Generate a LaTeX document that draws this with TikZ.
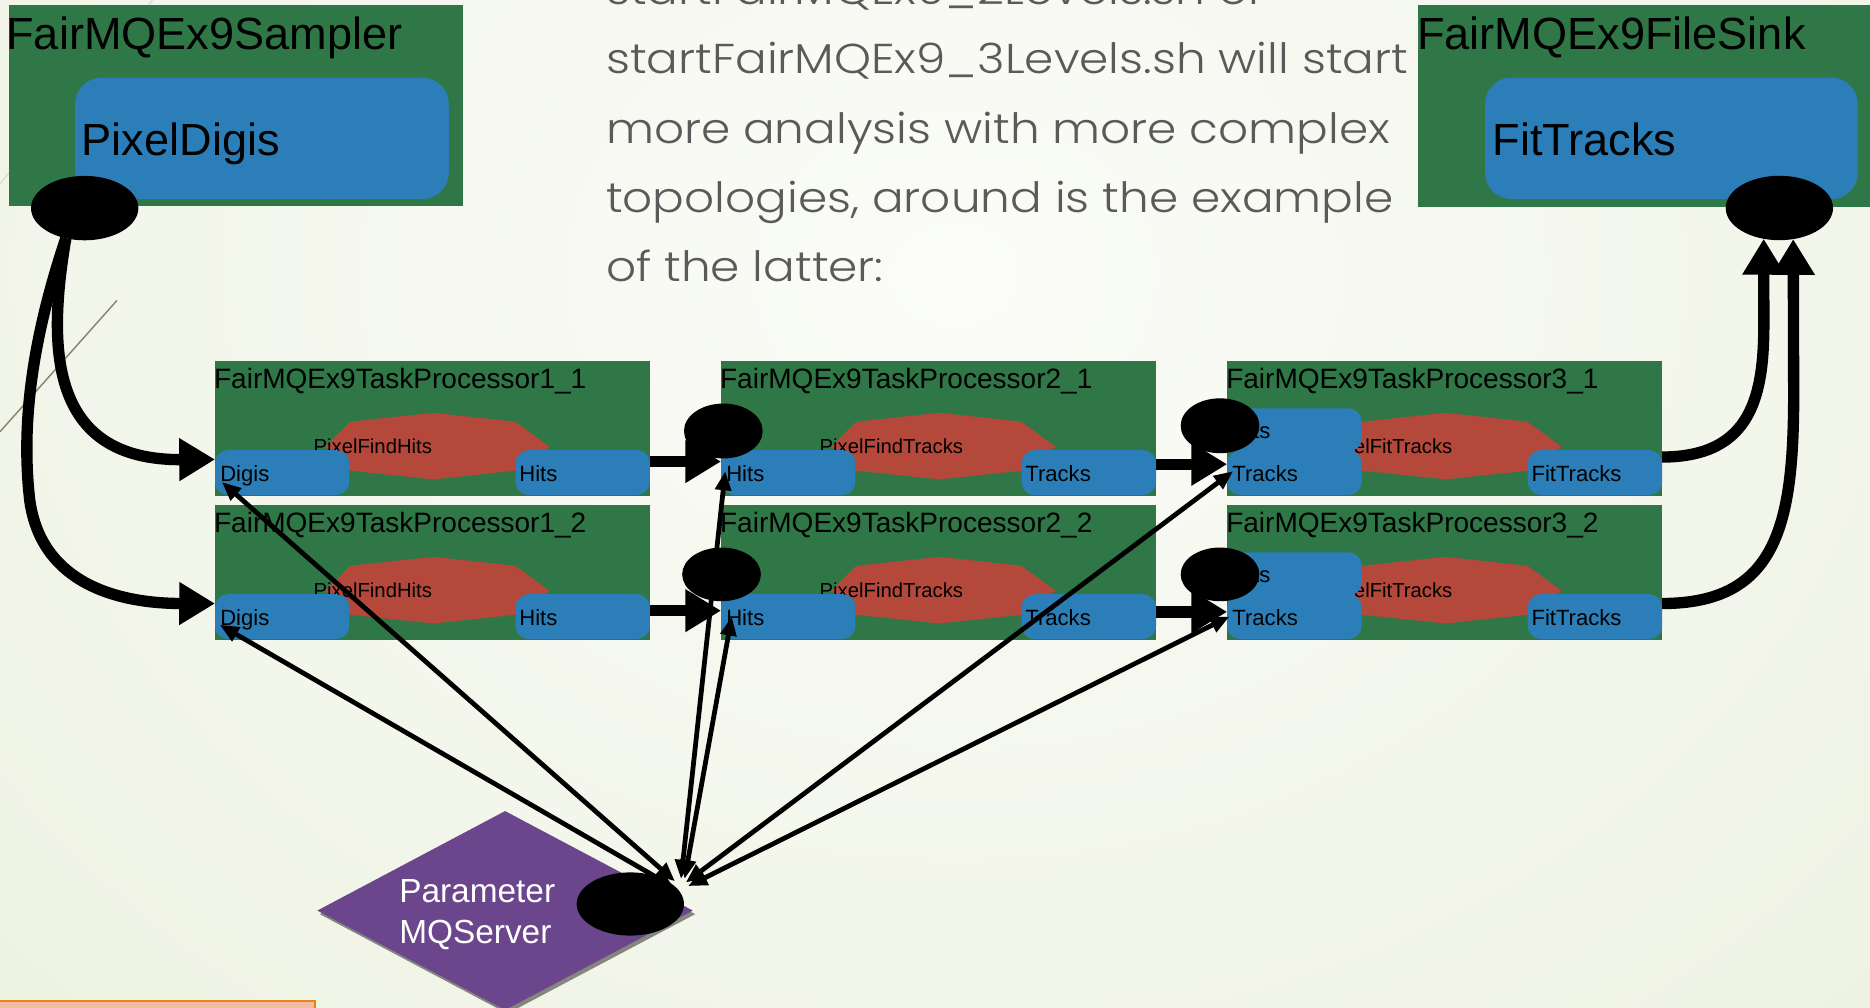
\documentclass[tikz,border=0pt]{standalone}
\usepackage{fontspec}
\setmainfont{Liberation Sans}
\IfFontExistsTF{Poppins Light}{\newfontfamily\gothic{Poppins Light}[FakeStretch=1.125]}{\newfontfamily\gothic{Poppins}[FakeStretch=1.125]}
\usetikzlibrary{arrows.meta,shapes.geometric,shadows}
\definecolor{bgout}{HTML}{E3EAD0}
\definecolor{bgin}{HTML}{FBFCF8}
\definecolor{boxgreen}{HTML}{2F7746}
\definecolor{portblue}{HTML}{2C7EB8}
\definecolor{procred}{HTML}{B4483A}
\definecolor{srvpurple}{HTML}{6B468C}
\definecolor{txtgray}{HTML}{5A5A5A}
\definecolor{barfill}{HTML}{EFBCA2}
\definecolor{barline}{HTML}{E8831F}
\definecolor{decoline}{HTML}{8A8270}
\tikzset{
  greenbox/.style={fill=boxgreen, inner sep=0pt, outer sep=0pt, anchor=north west},
  portbox/.style={fill=portblue, rounded corners=11pt, inner sep=0pt, outer sep=0pt, anchor=north west, minimum width=112.7pt, minimum height=37.7pt},
  bigport/.style={fill=portblue, rounded corners=22pt, inner sep=0pt, outer sep=0pt, anchor=north west, minimum width=313.3pt, minimum height=101.8pt},
  biglbl/.style={anchor=base west, inner sep=0pt, font=\fontsize{37.8}{45}\selectfont},
  titlelbl/.style={anchor=base west, inner sep=0pt, font=\fontsize{23.5}{28}\selectfont},
  proclbl/.style={anchor=base west, inner sep=0pt, font=\fontsize{17}{20}\selectfont},
  portlbl/.style={anchor=base west, inner sep=0pt, font=\fontsize{18.5}{22}\selectfont},
  blackdot/.style={ellipse, fill=black, inner sep=0pt, outer sep=0pt},
  thickarrow/.style={line width=9.5pt, -{Triangle[length=30pt,width=34pt]}},
  thinarrow/.style={line width=4pt, {Triangle[length=16pt,width=13pt]}-{Triangle[length=16pt,width=13pt]}},
  slidetext/.style={anchor=base west, inner sep=0pt, text=txtgray, font=\gothic\fontsize{35}{42}\selectfont},
}
% #1 name, #2 x, #3 y, #4 title, #5 process label, #6 left port, #7 right port, #8 extra
\newcommand\procbox[8]{%
  \node[greenbox, minimum width=364.7pt, minimum height=112.8pt] (#1) at (#2,#3) {};
  \node[titlelbl] (#1t) at (#2-1,#3+22.9) {#4};
  \fill[procred, shift={(#2,#3)}] (92.3,71.9) -- (113.3,50.9) -- (183.2,43.4) -- (251.7,50.9) -- (280.5,71.9) -- (251.7,92) -- (183.2,99.3) -- (113.3,92) -- cycle;
  \node[proclbl] (#1l) at (#2+82.5,#3+77.4) {#5};
  #8
  \node[portbox] (#1in) at (#2,#3+74.7) {};
  \node[portlbl] (#1inl) at (#2+4.2,#3+101.2) {#6};
  \node[portbox] (#1out) at (#2+252,#3+74.7) {};
  \node[portlbl] (#1outl) at (#2+255,#3+101.2) {#7};
}
\begin{document}
\begin{tikzpicture}[x=1pt,y=-1pt]
\useasboundingbox (0,0) rectangle (1568,845);
\clip (0,0) rectangle (1568,845);
% background
\fill[bgout] (0,0) rectangle (1568,845);
\shade[inner color=bgin, outer color=bgout] (800,230) ellipse (2000pt and 1600pt);
\draw[decoline, line width=1.2pt] (0,362) -- (98,252);
\draw[decoline!30, line width=1pt] (0,154) -- (128,0);
\fill[barfill, draw=barline, line width=1.5pt] (-5,839.5) rectangle (264,850);

% slide text
\node[slidetext] (line0) at (508,4) {startFairMQEx9\_2Levels.sh or};
\node[slidetext] (line1) at (508,62) {startFairMQEx9\_3Levels.sh will start};
\node[slidetext] (line2) at (508,120) {more analysis with more complex};
\node[slidetext] (line3) at (508,178) {topologies, around is the example};
\node[slidetext] (line4) at (508,236) {of the latter:};

% sampler
\node[greenbox, minimum width=380.4pt, minimum height=168.8pt] (sampler) at (7.6,4.2) {};
\node[biglbl] (samplert) at (5.2,41.9) {FairMQEx9Sampler};
\node[bigport] (samplerport) at (63,65.1) {};
\node[biglbl] (samplerportl) at (68.4,130) {PixelDigis};

% file sink
\node[greenbox, minimum width=380pt, minimum height=169.1pt] (sink) at (1189.3,4.2) {};
\node[biglbl] (sinkt) at (1188.2,41.4) {FairMQEx9FileSink};
\node[bigport, minimum width=312.5pt] (sinkport) at (1245.2,65.1) {};
\node[biglbl] (sinkportl) at (1251.3,130) {FitTracks};

% processors
\procbox{P11}{180.3}{302.7}{FairMQEx9TaskProcessor1\_1}{PixelFindHits}{Digis}{Hits}{}
\procbox{P12}{180.3}{423.5}{FairMQEx9TaskProcessor1\_2}{PixelFindHits}{Digis}{Hits}{}
\procbox{P21}{604.6}{302.7}{FairMQEx9TaskProcessor2\_1}{PixelFindTracks}{Hits}{Tracks}{}
\procbox{P22}{604.6}{423.5}{FairMQEx9TaskProcessor2\_2}{PixelFindTracks}{Hits}{Tracks}{}
\procbox{P31}{1029}{302.7}{FairMQEx9TaskProcessor3\_1}{PixelFitTracks}{Tracks}{FitTracks}{%
  \node[portbox, minimum height=36.3pt] (P31hin) at (1029,342.4) {};
  \node[portlbl] (P31hinl) at (1033.2,367.7) {Hits};}
\procbox{P32}{1029}{423.5}{FairMQEx9TaskProcessor3\_2}{PixelFitTracks}{Tracks}{FitTracks}{%
  \node[portbox, minimum height=36.3pt] (P32hin) at (1029,463.2) {};
  \node[portlbl] (P32hinl) at (1033.2,488.5) {Hits};}

% server
\node[diamond, fill=srvpurple, minimum width=315pt, minimum height=167pt, inner sep=0pt,
      drop shadow={shadow xshift=2pt, shadow yshift=-3pt, opacity=0.45, fill=black}] (pmq) at (423.5,763.5) {};
\node[anchor=base west, inner sep=0pt, text=white, font=\fontsize{28}{34}\selectfont] (pmqt1) at (334.6,757) {Parameter};
\node[anchor=base west, inner sep=0pt, text=white, font=\fontsize{28}{34}\selectfont] (pmqt2) at (334.6,791) {MQServer};

% black end dots
\node[blackdot, minimum width=90pt, minimum height=54pt] (samp_e) at (71,174.5) {};
\node[blackdot, minimum width=90pt, minimum height=54pt] (sink_e) at (1492,174.4) {};
\node[blackdot, minimum width=66pt, minimum height=46pt] (e21) at (606.5,361.4) {};
\node[blackdot, minimum width=66pt, minimum height=45pt] (e22) at (605,481.6) {};
\node[blackdot, minimum width=66pt, minimum height=46pt] (e31) at (1023,357) {};
\node[blackdot, minimum width=66pt, minimum height=45pt] (e32) at (1023,481.6) {};
\node[blackdot, minimum width=90pt, minimum height=53pt] (pe) at (528.5,758) {};

% thick data arrows
\draw[thickarrow] (samp_e.238) .. controls (40,290) and (40,386) .. ([yshift=11pt]P11in.west);
\draw[thickarrow] (samp_e.238) .. controls (25,290) and (18,360) .. (25,420) .. controls (35,490) and (100,506) .. ([yshift=11pt]P12in.west);
\draw[thickarrow] ([yshift=9.25pt]P11out.east) -- ([yshift=9.25pt]P21in.west);
\draw[thickarrow] ([yshift=5pt]P12out.east) -- ([yshift=5pt]P22in.west);
\draw[thickarrow] ([yshift=7pt]P21out.east) -- ([yshift=7pt]P31in.west);
\draw[thickarrow] ([yshift=4pt]P22out.east) -- ([yshift=4pt]P32in.west);
\draw[thickarrow] ([yshift=13pt]P31out.east) .. controls (1470,383) and (1479,330) .. (1479,270) -- (sink_e.243);
\draw[thickarrow] ([yshift=11pt]P32out.east) .. controls (1490,506) and (1504,440) .. (1504,330) -- (sink_e.294);

% parameter arrows
\draw[thinarrow] ([xshift=37.5pt,yshift=19pt]pe.center) -- ([xshift=5.7pt,yshift=11pt]P11in.south west);
\draw[thinarrow] ([xshift=36.5pt,yshift=14pt]pe.center) -- ([xshift=4pt,yshift=12pt]P12in.south west);
\draw[thinarrow] ([xshift=42.5pt,yshift=21pt]pe.center) -- ([xshift=3.5pt,yshift=20pt]P21in.south west);
\draw[thinarrow] ([xshift=45.5pt,yshift=21pt]pe.center) -- ([xshift=9pt,yshift=19pt]P22in.south west);
\draw[thinarrow] ([xshift=46.5pt,yshift=18pt]pe.center) -- ([xshift=5pt,yshift=20pt]P31in.south west);
\draw[thinarrow] ([xshift=48.5pt,yshift=15pt]pe.center) -- ([xshift=2pt,yshift=19pt]P32in.south west);
\end{tikzpicture}
\end{document}
